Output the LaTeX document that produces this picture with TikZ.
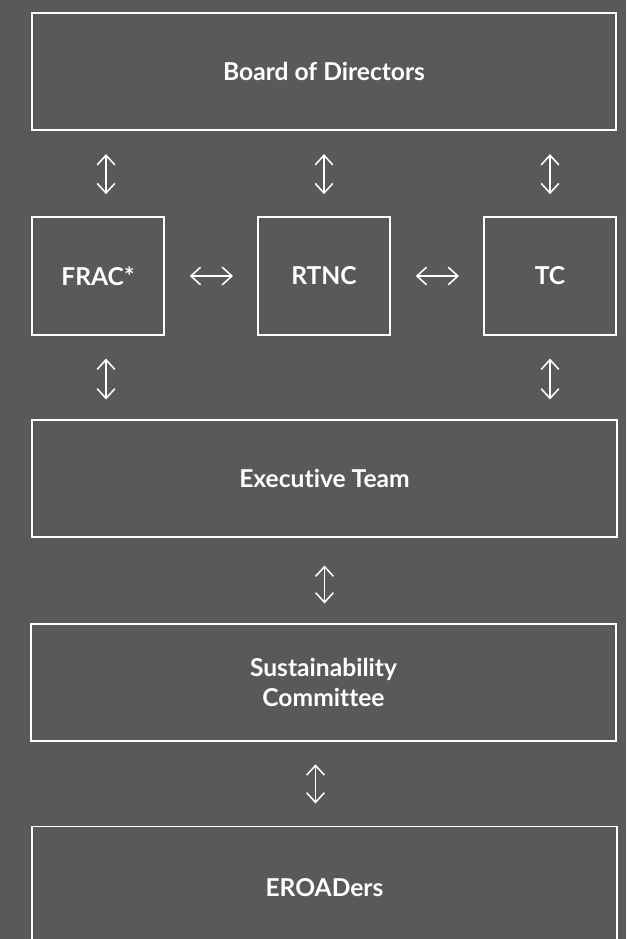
\documentclass[tikz,border=0pt]{standalone}
\usepackage{fontspec}
\setsansfont{Lato}[Ligatures=NoCommon]
\usetikzlibrary{arrows.meta}

\definecolor{slate}{HTML}{5A5957}

\tikzset{
  box/.style={draw=white, line width=1.4pt, text=white, align=center,
    font=\sffamily\bfseries\fontsize{17.5}{21.5}\selectfont, inner sep=0pt},
  widebox/.style={box, minimum width=14.6cm, minimum height=2.94cm},
  smallbox/.style={box, minimum width=3.3cm, minimum height=2.94cm},
  link/.style={draw=white, line width=1.1pt,
    {Straight Barb[length=0.24cm,width=0.44cm]}-{Straight Barb[length=0.24cm,width=0.44cm]}}
}

\begin{document}
\begin{tikzpicture}[x=0.025cm,y=-0.025cm]

% background
\fill[slate] (0,0) rectangle (626,939);
\useasboundingbox (0,0) rectangle (626,939);

% boxes
\node[widebox] (board) at (324,71.5) {Board of Directors};
\node[smallbox] (frac) at (98,276) {FRAC*};
\node[smallbox] (rtnc) at (324,276) {RTNC};
\node[smallbox] (tc) at (550,276) {TC};
\node[widebox] (exec) at (324.5,478.5) {Executive Team};
\node[widebox] (sust) at (323.5,682.5) {Sustainability\\Committee};
\node[widebox, minimum height=3.05cm] (eroad) at (324.5,887.5) {EROADers};

% arrows between the rows
\draw[link, shorten <=0.57cm, shorten >=0.55cm] ([xshift=0.2cm]frac.north |- board.south) -- ([xshift=0.2cm]frac.north);
\draw[link, shorten <=0.57cm, shorten >=0.55cm] (rtnc.north |- board.south) -- (rtnc.north);
\draw[link, shorten <=0.57cm, shorten >=0.55cm] (tc.north |- board.south) -- (tc.north);
\draw[link, shorten <=0.57cm, shorten >=0.48cm] ([xshift=0.2cm]frac.south) -- ([xshift=0.2cm]frac.south |- exec.north);
\draw[link, shorten <=0.57cm, shorten >=0.48cm] (tc.south) -- (tc.south |- exec.north);
\draw[link, shorten <=0.68cm, shorten >=0.48cm] (exec.south) -- (exec.south |- sust.north);
\draw[link, shorten <=0.55cm, shorten >=0.55cm] ([xshift=-0.2cm]sust.south) -- ([xshift=-0.2cm]sust.south |- eroad.north);

% arrows inside the committee row
\draw[link, shorten <=0.62cm, shorten >=0.6cm] (frac.east) -- (rtnc.west);
\draw[link, shorten <=0.62cm, shorten >=0.6cm] (rtnc.east) -- (tc.west);

\end{tikzpicture}
\end{document}
